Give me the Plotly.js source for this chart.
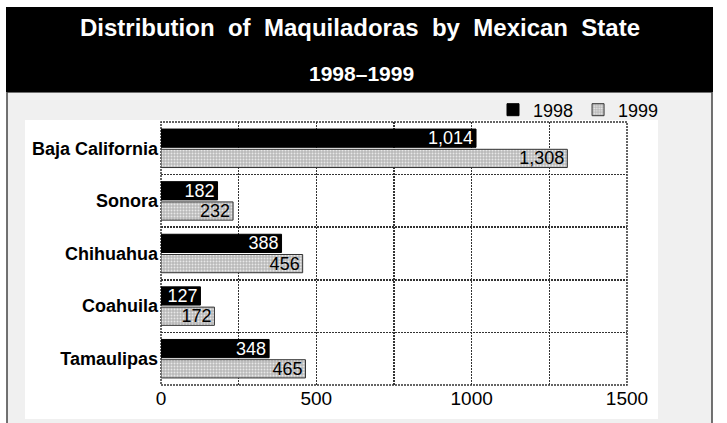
<!DOCTYPE html>
<html>
<head>
<meta charset="utf-8">
<script src="https://cdn.plot.ly/plotly-3.0.1.min.js"></script>
<style>
  html, body { margin: 0; padding: 0; background: #fff; }
  #chart { width: 727px; height: 423px; }
</style>
</head>
<body>
<div id="chart"></div>
<script>
// Maquiladora plants per state
const states = ['Baja California', 'Sonora', 'Chihuahua', 'Coahuila', 'Tamaulipas'];
const plants1998 = [1014, 182, 388, 127, 348];
const plants1999 = [1308, 232, 456, 172, 465];
const seriesNames = ['1998', '1999'];
const xTicks = [0, 500, 1000, 1500];

const FONT = '"Liberation Sans", Arial, Helvetica, sans-serif';
const GRID = '#333333';
const GRID_DASH = '2px,1px';
const GRID_W = 1.5;

const traces = [
  {
    type: 'bar', orientation: 'h', name: seriesNames[0],
    y: states, x: plants1998,
    marker: { color: '#000000', line: { color: '#000000', width: 1 } },
    texttemplate: '%{x:,}', textposition: 'inside', insidetextanchor: 'end',
    constraintext: 'none', cliponaxis: false,
    textfont: { family: FONT, size: 18, color: '#ffffff' },
    hoverinfo: 'skip'
  },
  {
    type: 'bar', orientation: 'h', name: seriesNames[1],
    y: states, x: plants1999,
    marker: {
      color: '#b8b8b8',
      line: { color: '#333333', width: 1 },
      pattern: { shape: '.', bgcolor: '#b8b8b8', fgcolor: '#e8e8e8', size: 3, solidity: 0.35 }
    },
    texttemplate: '%{x:,}', textposition: 'inside', insidetextanchor: 'end',
    constraintext: 'none', cliponaxis: false,
    textfont: { family: FONT, size: 18, color: '#000000' },
    hoverinfo: 'skip'
  }
];

// frame helpers (paper units of the plot box)
const W = 466, H = 263, L = 161, T = 122;
const px = v => (v - L) / W;
const py = v => (T + H - v) / H;

const layout = {
  width: 727, height: 423,
  margin: { l: L, r: 727 - L - W, t: T, b: 423 - T - H, pad: 0 },
  paper_bgcolor: '#ffffff',
  plot_bgcolor: 'rgba(0,0,0,0)',
  font: { family: FONT, color: '#000000' },
  barmode: 'group', bargap: 0.23, bargroupgap: 0.1,
  hovermode: false,
  title: {
    text: 'Distribution \u00a0of \u00a0Maquiladoras \u00a0by \u00a0Mexican \u00a0State',
    font: { family: FONT, size: 24, color: '#ffffff', weight: 'bold' },
    x: 360 / 727, xanchor: 'center', xref: 'container',
    y: 1 - 28 / 423, yanchor: 'middle', yref: 'container'
  },
  annotations: [{
    text: '1998\u20131999', showarrow: false,
    xref: 'paper', yref: 'paper', x: px(361.5), y: py(73),
    xanchor: 'center', yanchor: 'middle',
    font: { family: FONT, size: 21, color: '#ffffff', weight: 'bold' }
  }],
  shapes: [
    { type: 'rect', layer: 'below', xref: 'paper', yref: 'paper',
      x0: px(7), x1: px(712), y0: py(440), y1: py(92),
      fillcolor: '#f0f0f0', line: { color: '#444444', width: 1.5 } },
    { type: 'rect', layer: 'below', xref: 'paper', yref: 'paper',
      x0: px(25), x1: px(658), y0: py(419), y1: py(120),
      fillcolor: '#ffffff', line: { width: 0 } },
    { type: 'rect', layer: 'below', xref: 'paper', yref: 'paper',
      x0: px(6), x1: px(713), y0: py(92), y1: py(7),
      fillcolor: '#000000', line: { width: 0 } },
    // dotted border around the plotting box
    { type: 'rect', layer: 'below', xref: 'paper', yref: 'paper',
      x0: 0, x1: 1, y0: 0, y1: 1,
      fillcolor: 'rgba(0,0,0,0)', line: { color: GRID, width: GRID_W, dash: GRID_DASH } }
  ],
  legend: {
    orientation: 'h', x: px(664), xanchor: 'right', y: py(110), yanchor: 'middle',
    bgcolor: 'rgba(0,0,0,0)', font: { family: FONT, size: 18, color: '#000000' },
    traceorder: 'normal', itemwidth: 30
  },
  xaxis: {
    range: [0, 1500], tickvals: xTicks, ticks: '', showline: false, zeroline: false,
    showgrid: true, gridcolor: GRID, griddash: GRID_DASH, gridwidth: GRID_W,
    minor: { dtick: 250, tick0: 0, showgrid: true, gridcolor: GRID, griddash: GRID_DASH, gridwidth: GRID_W },
    tickfont: { family: FONT, size: 19, color: '#000000' },
    fixedrange: true
  },
  yaxis: {
    type: 'category', categoryorder: 'array', categoryarray: states,
    autorange: 'reversed', tickson: 'boundaries', ticks: '',
    showgrid: true, gridcolor: GRID, griddash: GRID_DASH, gridwidth: GRID_W,
    showline: false, zeroline: false,
    tickfont: { family: FONT, size: 18, color: '#000000', weight: 'bold' },
    ticklabelstandoff: 2,
    fixedrange: true
  }
};

Plotly.newPlot('chart', traces, layout, { staticPlot: true, displayModeBar: false });
</script>
</body>
</html>
